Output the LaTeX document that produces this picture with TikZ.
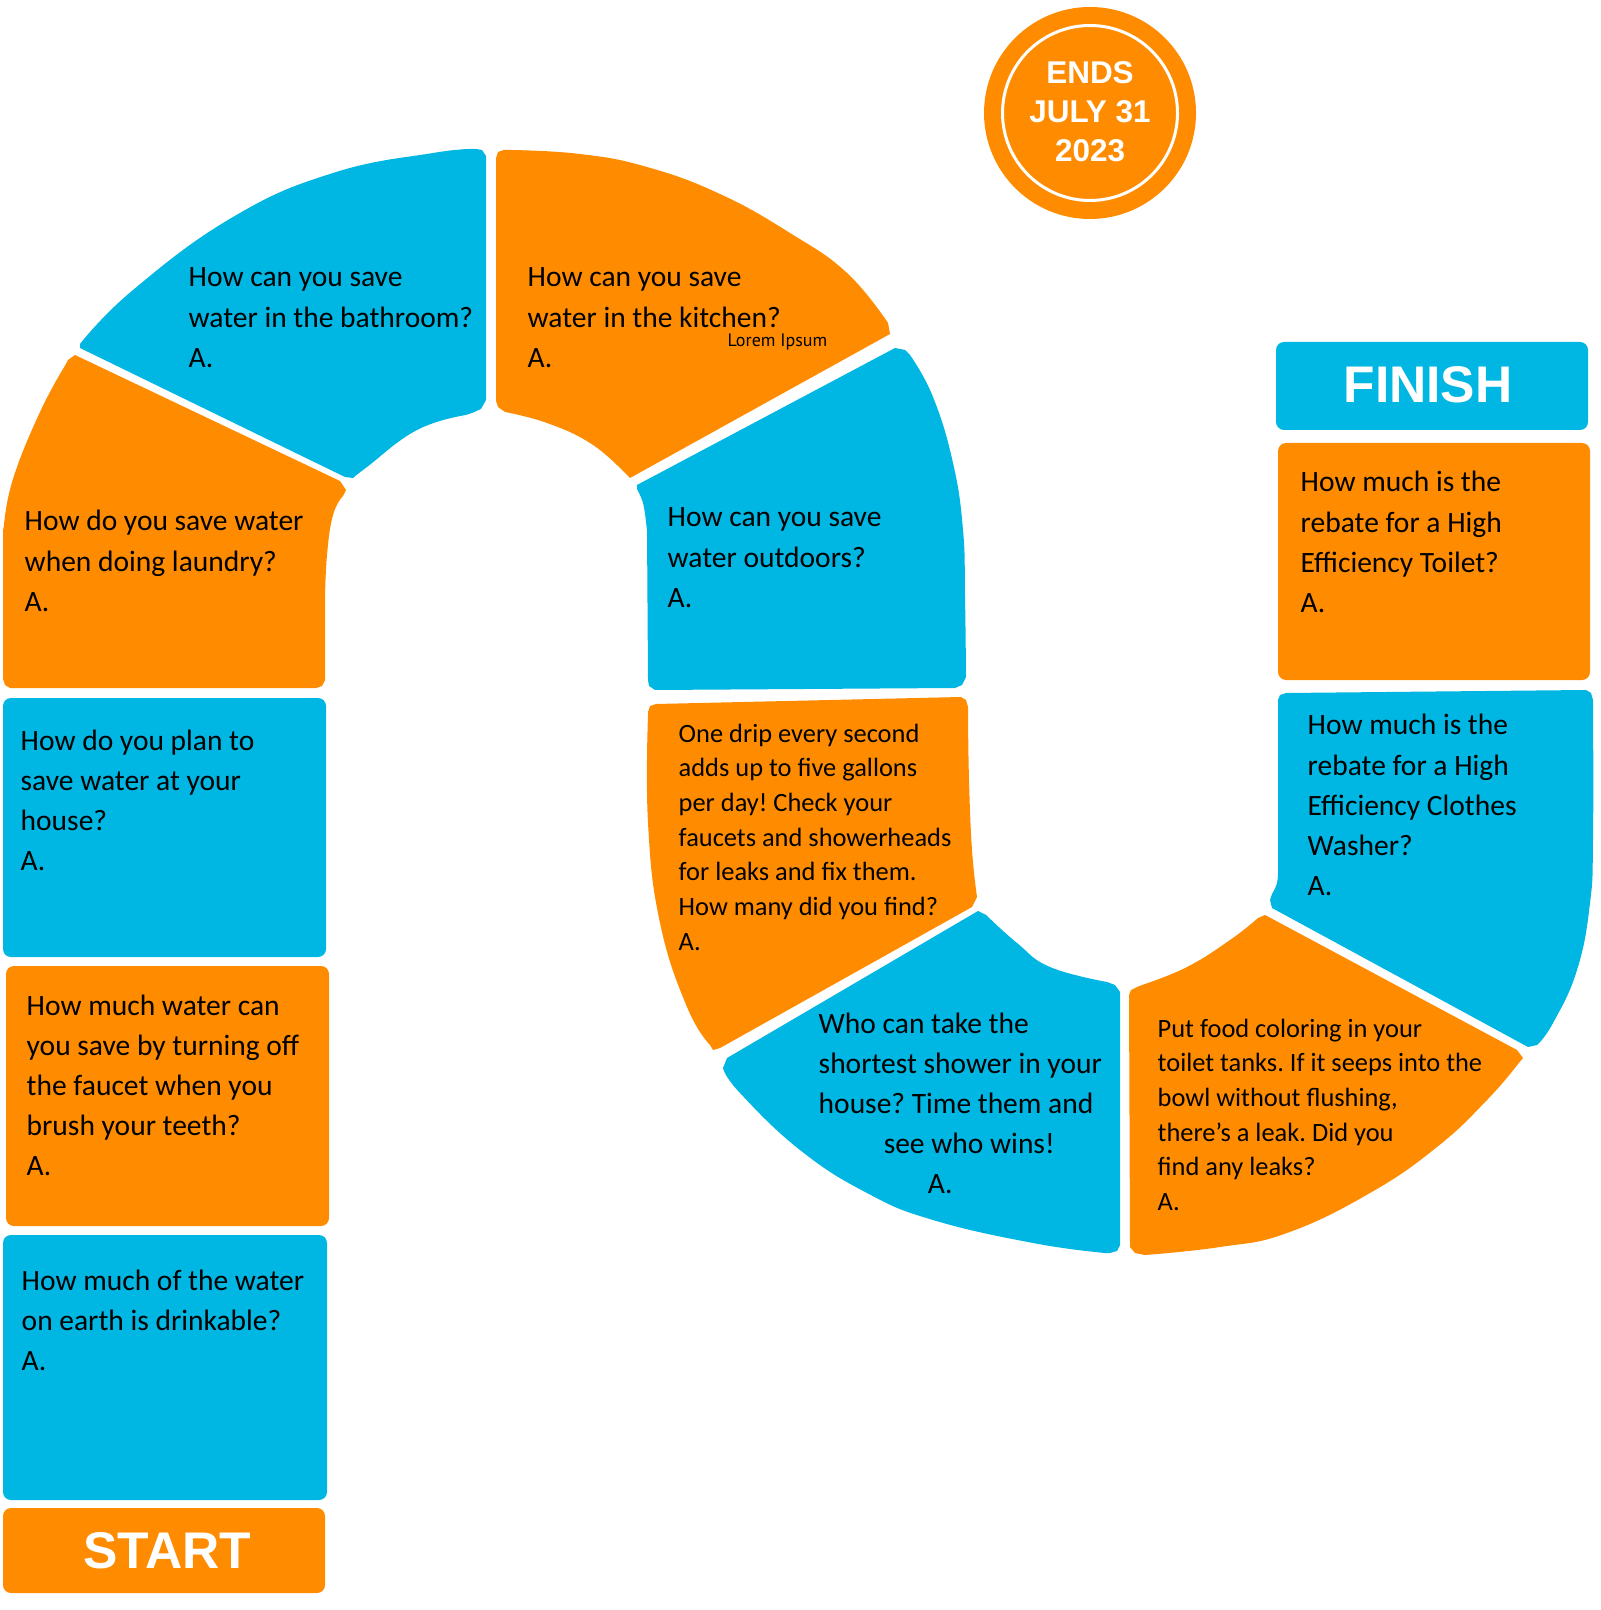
\documentclass[tikz,border=0pt]{standalone}
\usepackage{fontspec}
\setmainfont{Carlito}
\newfontfamily\headfont{Liberation Sans}
\newfontfamily\loremfont{PT Sans}
\definecolor{gblue}{RGB}{0,182,226}
\definecolor{gorange}{RGB}{255,140,0}
\newcommand{\qfont}{\fontsize{8.39pt}{11.38pt}\selectfont}
\newcommand{\sqfont}{\fontsize{7.51pt}{9.87pt}\selectfont}
\newcommand{\qbox}[2][\qfont]{\parbox[t]{6cm}{#1\frenchspacing\raggedright #2}}
\tikzset{
  bluetile/.style={fill=gblue, rounded corners=0.08cm},
  orangetile/.style={fill=gorange, rounded corners=0.08cm},
  bluecurve/.style={fill=gblue},
  orangecurve/.style={fill=gorange},
  qtext/.style={anchor=base west, inner sep=0pt, text=black},
  headtext/.style={anchor=base, inner sep=0pt, text=white, font=\headfont\bfseries\fontsize{14.65pt}{16pt}\selectfont},
  endstext/.style={anchor=base, inner sep=0pt, text=white, font=\headfont\bfseries\fontsize{8.95pt}{10pt}\selectfont}
}
\begin{document}
\begin{tikzpicture}[x=0.01cm, y=-0.01cm]
\useasboundingbox (0,0) rectangle (1600,1610);

% ---- arch tiles ----
\fill[bluecurve] (80,348) -- plot[smooth, tension=0.75] coordinates {(80,344) (133,290) (233,217) (333,173) (433,153) (476,149)} -- (482,150) -- (486,156) -- (486,400) -- (481,409) -- (472,413) -- plot[smooth, tension=0.75] coordinates {(466,415) (417,430) (367,467) (353,478)} -- (345,477) -- cycle;

\fill[orangecurve] (496,158) -- (498,152) -- (504,150) -- plot[smooth, tension=0.75] coordinates {(510,150) (580,154) (647,167) (720,194) (790,233) (847,273) (888,323)} -- (890,334) -- (630,478) -- plot[smooth, tension=0.75] coordinates {(622,470) (590,443) (547,423) (505,412)} -- (498,407) -- (496,401) -- cycle;

\fill[bluecurve] (637,485) -- (895,348) -- (905,350) -- plot[smooth, tension=0.75] coordinates {(910,355) (933,397) (953,463) (963,530) (965,597) (966,677)} -- (962,685) -- (955,688) -- (655,690) -- (649,686) -- (648,680) -- (647,530) -- plot[smooth, tension=0.75] coordinates {(646,522) (643,503) (637,489)} -- cycle;

\fill[orangecurve] (68,360) -- (75,355) -- (340,481) -- (346,490) -- plot[smooth, tension=0.75] coordinates {(343,496) (333,515) (327,555) (325,600)} -- (325,680) -- (322,686) -- (316,688) -- (10,688) -- (5,685) -- (3,679) -- (3,531) -- plot[smooth, tension=0.75] coordinates {(4,525) (13,479) (40,412) (66,364)} -- cycle;

% ---- lower U tiles ----
\fill[orangecurve] (648,712) -- (650,706) -- (656,704) -- (961,697) -- (966,700) -- (968,707) -- plot[smooth, tension=0.75] coordinates {(968,712) (969,780) (972,850) (977,897)} -- (972,907) -- (720,1048) -- (713,1050) -- plot[smooth, tension=0.75] coordinates {(710,1045) (687,1007) (660,923) (648,823) (648,715)} -- cycle;

\fill[bluecurve] (978,911) -- plot[smooth, tension=0.75] coordinates {(986,915) (1017,943) (1050,967) (1107,982)} -- (1115,985) -- (1120,992) -- (1120,1245) -- (1117,1251) -- (1110,1253) -- plot[smooth, tension=0.75] coordinates {(1105,1253) (1033,1243) (933,1220) (867,1193) (800,1150) (740,1093) (723,1068)} -- (727,1058) -- cycle;

\fill[orangecurve] (1265,915) -- (1517,1050) -- (1523,1058) -- plot[smooth, tension=0.75] coordinates {(1518,1064) (1487,1100) (1437,1147) (1370,1193) (1287,1233) (1220,1247) (1145,1255)} -- (1135,1253) -- (1130,1247) -- (1129,995) -- (1131,990) -- (1137,987) -- plot[smooth, tension=0.75] coordinates {(1142,985) (1187,967) (1230,940) (1258,918)} -- cycle;

\fill[bluecurve] (1278,700) -- (1280,695) -- (1286,693) -- (1586,690) -- (1591,693) -- (1593,700) -- plot[smooth, tension=0.75] coordinates {(1593,705) (1593,837) (1590,903) (1577,970) (1553,1023) (1537,1045)} -- (1528,1047) -- (1272,908) -- (1270,900) -- plot[smooth, tension=0.75] coordinates {(1272,894) (1277,883) (1278,870)} -- cycle;

% ---- straight tiles ----
\fill[bluetile] (3,698) rectangle (326,957);
\fill[orangetile] (6,966) rectangle (329,1226);
\fill[bluetile] (3,1235) rectangle (327,1500);
\fill[orangetile] (3,1508) rectangle (325,1593);
\fill[bluetile] (1276,342) rectangle (1588,430);
\fill[orangetile] (1278,443) rectangle (1590,680);

% ---- badge ----
\fill[gorange] (1090,113) circle[radius=106];
\draw[white, line width=0.85pt] (1090,113) circle[radius=87.5];
\node[endstext] (ends) at (1090,84) {ENDS};
\node[endstext] (july) at (1090,123) {JULY 31};
\node[endstext] (year) at (1090,162) {2023};

% ---- headings ----
\node[headtext] (finish) at (1428,403) {FINISH};
\node[headtext] (start) at (167,1568) {START};

% ---- questions ----
\node[qtext] (bath) at (188,287) {\qbox{How can you save\\water in the bathroom?\\A.}};
\node[qtext] (kitchen) at (527,287) {\qbox{How can you save\\water in the kitchen?\\A.}};
\node[qtext, font=\loremfont\fontsize{5.12pt}{6pt}\selectfont] (lorem) at (727,347) {Lorem Ipsum};
\node[qtext] (outdoors) at (667,527) {\qbox{How can you save\\water outdoors?\\A.}};
\node[qtext] (laundry) at (24,531) {\qbox{How do you save water\\when doing laundry?\\A.}};
\node[qtext] (plan) at (20,750) {\qbox{How do you plan to\\save water at your\\house?\\A.}};
\node[qtext] (brush) at (26,1015) {\qbox{How much water can\\you save by turning off\\the faucet when you\\brush your teeth?\\A.}};
\node[qtext] (drink) at (21,1290) {\qbox{How much of the water\\on earth is drinkable?\\A.}};
\node[qtext] (drip) at (678,742) {\qbox[\sqfont]{One drip every second\\adds up to five gallons\\per day! Check your\\faucets and showerheads\\for leaks and fix them.\\How many did you find?\\A.}};
\node[qtext] (shower) at (818,1033) {\qbox{Who can take the\\shortest shower in your\\house? Time them and\\\hspace*{0.65cm}see who wins!\\\hspace*{1.09cm}A.}};
\node[qtext] (tank) at (1157,1037) {\qbox[\sqfont]{Put food coloring in your\\toilet tanks. If it seeps into the\\bowl without flushing,\\there’s a leak. Did you\\find any leaks?\\A.}};
\node[qtext] (toilet) at (1300,492) {\qbox{How much is the\\rebate for a High\\Efficiency Toilet?\\A.}};
\node[qtext] (washer) at (1307,735) {\qbox{How much is the\\rebate for a High\\Efficiency Clothes\\Washer?\\A.}};
\end{tikzpicture}
\end{document}
